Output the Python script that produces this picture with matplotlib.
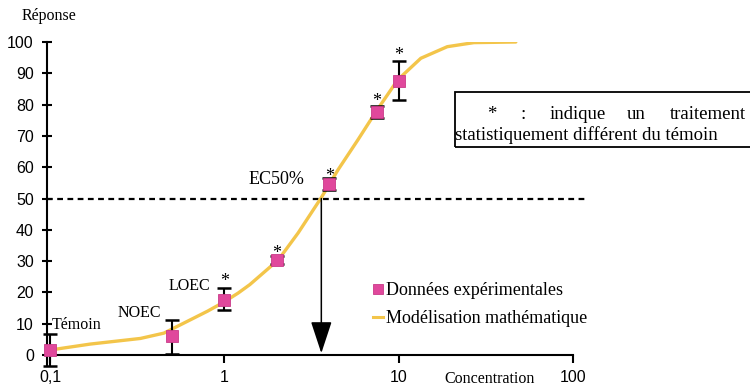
import matplotlib
matplotlib.use("Agg")
import matplotlib.pyplot as plt
from matplotlib.lines import Line2D
from matplotlib.patches import Rectangle

# ---- data ----
conc = [0.1, 0.5, 1, 2, 4, 7.5, 10]
resp = [1.6, 6.0, 17.5, 30.3, 54.7, 77.7, 87.7]
err_low = [5.2, 5.7, 3.0, 1.2, 2.0, 2.1, 6.3]
err_high = [5.2, 5.2, 3.8, 1.2, 2.0, 1.8, 6.3]

curve_x = [0.1, 0.17, 0.33, 0.45, 0.6, 0.8, 1.0, 1.2, 1.4, 2.04, 2.65, 3.6,
           4.48, 5.83, 7.42, 9.87, 13.4, 19, 27, 47]
curve_y = [1.6, 3.5, 5.3, 7.0, 10.5, 14.0, 17.0, 19.8, 22.5, 30.4, 39.0, 50.3,
           59.1, 68.7, 77.8, 87.9, 94.8, 98.5, 99.8, 100]

star_x = [1, 2, 4, 7.5, 10]
star_y = [23.4, 32.4, 57.0, 80.9, 95.8]

ec50 = 3.6
x_ticks = [0.1, 1, 10, 100]
x_ticklabels = ["0,1", "1", "10", "100"]
y_ticks = list(range(0, 101, 10))

labels_pts = {"Témoin": (0.102, 9.6), "NOEC": (0.245, 13.3),
              "LOEC": (0.476, 22.0), "EC50%": (1.37, 56.2)}

# ---- style ----
SERIF = "Liberation Serif"
SANS = "Liberation Sans"
PINK = "#E0489C"
YELLOW = "#F3C54A"
NAVY = "#28335A"

W, H = 750, 387
fig = plt.figure(figsize=(7.5, 3.87), dpi=100)

def fx(px):
    return px / W

def fy(py):
    return 1 - py / H

ax = fig.add_axes([fx(47), fy(366), fx(573) - fx(47), fy(42) - fy(366)])
ax.set_xscale("log")
ax.set_xlim(0.0961, 100)
ax.set_ylim(-3.5, 100)

for s in ["top", "right"]:
    ax.spines[s].set_visible(False)
ax.spines["bottom"].set_position(("data", 0))
for s in ["left", "bottom"]:
    ax.spines[s].set_linewidth(1.5)

ax.set_yticks(y_ticks)
ax.set_xticks(x_ticks)
ax.set_xticklabels(x_ticklabels)
ax.minorticks_off()
ax.tick_params(axis="y", direction="inout", length=7, width=1.5, pad=6,
               labelsize=11.5)
ax.tick_params(axis="x", direction="out", length=6, width=1.5, pad=5,
               labelsize=11.5)
for t in ax.get_xticklabels() + ax.get_yticklabels():
    t.set_fontfamily(SANS)

# dashed 50% line
ax.plot([0.0961, 122], [50, 50], color="black", lw=1.6, dashes=(2.6, 2.0),
        clip_on=False, zorder=2)

# model curve
ax.plot(curve_x, curve_y, color=YELLOW, lw=2.4, zorder=3,
        solid_capstyle="round", solid_joinstyle="round")

# experimental data with error bars
ax.errorbar(conc, resp, yerr=[err_low, err_high], fmt="none", ecolor="black",
            elinewidth=1.5, capsize=5, capthick=1.8, zorder=4, clip_on=False)
ax.plot(conc, resp, ls="none", marker="s", markersize=8.5, color=PINK,
        markeredgecolor="#C93A88", markeredgewidth=0.6, zorder=5, clip_on=False)

# asterisks
for xs, ys in zip(star_x, star_y):
    ax.text(xs, ys, "*", fontsize=13, family=SERIF, ha="center", va="center",
            zorder=6)

# point labels
for lab, (lx, ly) in labels_pts.items():
    size = 13 if lab == "EC50%" else 11.5
    ax.text(lx, ly, lab, fontsize=size, family=SERIF, ha="left", va="center")

# EC50 arrow
ax.annotate("", xy=(ec50, 0.6), xytext=(ec50, 50),
            arrowprops=dict(arrowstyle="-|>,head_length=1.0,head_width=0.33",
                            mutation_scale=20, lw=1.1, color="black",
                            facecolor=NAVY, edgecolor="#111111",
                            shrinkA=0, shrinkB=0), zorder=6)

# legend
handles = [Line2D([], [], ls="none", marker="s", markersize=7.5, color=PINK,
                  markeredgecolor="#C93A88", markeredgewidth=0.6),
           Line2D([], [], color=YELLOW, lw=2.2)]
leg = ax.legend(handles, ["Données expérimentales", "Modélisation mathématique"],
                loc="upper left", bbox_to_anchor=(fx(373), fy(282)),
                bbox_transform=fig.transFigure, frameon=False,
                prop={"family": SERIF, "size": 13}, handlelength=0.55,
                handletextpad=0.15, labelspacing=0.62, borderpad=0,
                borderaxespad=0)

# axis titles
fig.text(fx(22), fy(16), "Réponse", family=SERIF, fontsize=11.5,
         ha="left", va="center")
fig.text(fx(444), fy(379), "Concentration", family=SERIF, fontsize=11.5,
         ha="left", va="center")

# note box
fig.patches.append(Rectangle((fx(455), fy(147)), fx(320), fy(92) - fy(147),
                             transform=fig.transFigure, fill=False,
                             edgecolor="black", lw=1.3))
for word, px in [("*", 487), (":", 520), ("indique", 550), ("un", 627),
                 ("traitement", 670)]:
    fig.text(fx(px), fy(119), word, family=SERIF, fontsize=13.5,
             ha="left", va="baseline")
fig.text(fx(455), fy(140), "statistiquement différent du témoin",
         family=SERIF, fontsize=13.5, ha="left", va="baseline")

fig.savefig("out.png", dpi=100)
